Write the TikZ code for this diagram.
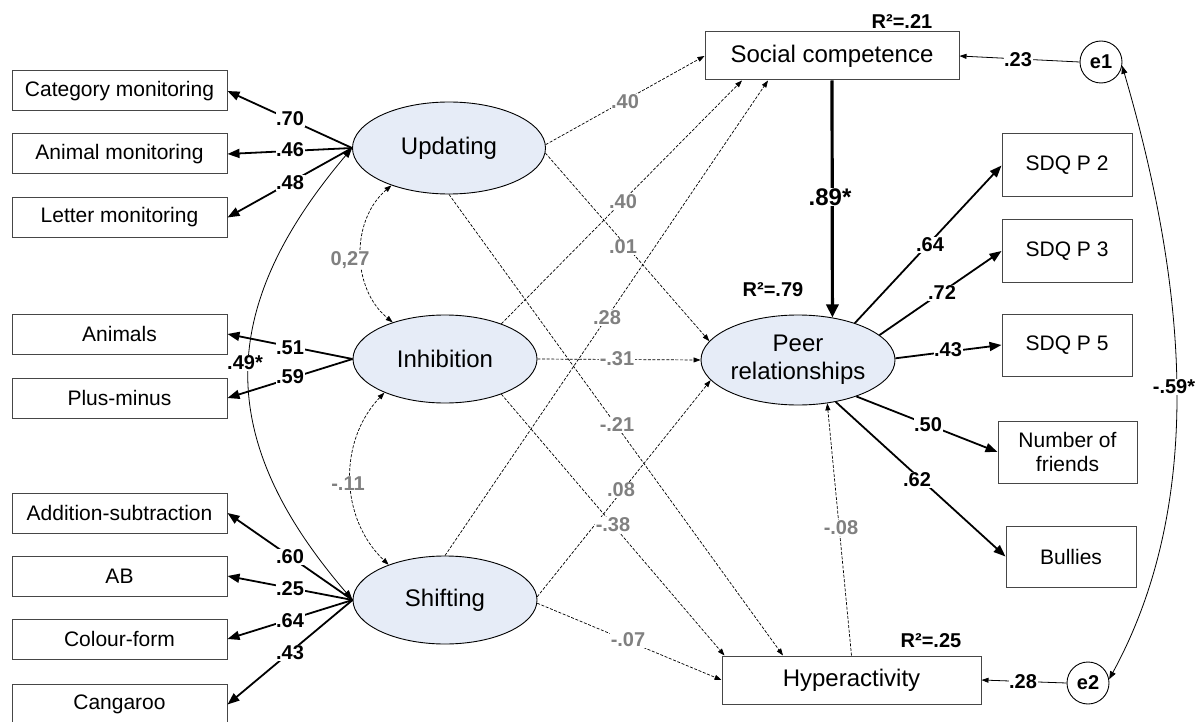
\documentclass[tikz,border=0pt]{standalone}
\usepackage{fontspec}
\setmainfont{Liberation Sans}
\usetikzlibrary{arrows.meta,shapes.geometric}
\definecolor{ellfill}{RGB}{230,236,247}
\definecolor{labgrey}{RGB}{128,128,128}
\definecolor{boxline}{RGB}{70,70,70}
\newcommand\fntS{\fontsize{21}{24}\selectfont}
\newcommand\fntL{\fontsize{24}{28}\selectfont}
\newcommand\fntB{\fontsize{20}{22}\selectfont\bfseries}
\newcommand\fntX{\fontsize{24}{26}\selectfont\bfseries}

\begin{document}
\begin{tikzpicture}[x=1pt,y=-1pt,
  obs/.style={draw=boxline, line width=1pt, fill=white, inner sep=0pt, font=\fntS, align=center},
  leftbox/.style={obs, minimum width=215pt, minimum height=40pt},
  sdqbox/.style={obs, minimum width=130pt, minimum height=62pt},
  latent/.style={ellipse, draw=black, line width=0.9pt, fill=ellfill, inner sep=0pt, font=\fntL, align=center},
  errc/.style={circle, draw=black, line width=0.9pt, fill=white, minimum size=42pt, inner sep=0pt, font=\fntB},
  load/.style={line width=1.8pt, -{Triangle[length=12pt,width=9pt]}},
  dpath/.style={line width=0.7pt, dash pattern=on 3pt off 1.6pt, -{Triangle[length=7pt,width=5pt]}},
  dcorr/.style={line width=0.7pt, dash pattern=on 3pt off 1.6pt, {Triangle[length=7pt,width=5pt]}-{Triangle[length=7pt,width=5pt]}},
  resid/.style={line width=0.8pt, -{Triangle[length=7pt,width=5pt]}},
  lab/.style={font=\fntB, fill=white, inner sep=0.6pt},
  glab/.style={lab, text=labgrey},
]
\useasboundingbox (0,0) rectangle (1202,722);

% ---- indicators on the left ----
\node[leftbox] (catmon) at (119.5,91) {Category monitoring};
\node[leftbox] (animon) at (119.5,154) {Animal monitoring};
\node[leftbox] (letmon) at (119.5,217.5) {Letter monitoring};
\node[leftbox] (animals) at (119.5,334) {Animals};
\node[leftbox] (plusmin) at (119.5,398) {Plus-minus};
\node[leftbox] (addsub) at (119.5,513) {Addition-subtraction};
\node[leftbox] (ab) at (119.5,576) {AB};
\node[leftbox] (colform) at (119.5,639) {Colour-form};
\node[leftbox] (cangaroo) at (119.5,704.5) {Cangaroo};

% ---- latent factors ----
\node[latent, minimum width=193pt, minimum height=92pt] (upd) at (449,148) {Updating};
\node[latent, minimum width=184pt, minimum height=88pt] (inh) at (445,359) {Inhibition};
\node[latent, minimum width=184pt, minimum height=88pt] (shf) at (445,600) {Shifting};
\node[latent, minimum width=194pt, minimum height=90pt] (peer) at (798,360) {Peer\\relationships};

% ---- outcomes ----
\node[obs, font=\fntL, minimum width=254pt, minimum height=48pt] (social) at (832,56) {Social competence};
\node[obs, font=\fntL, minimum width=259pt, minimum height=48pt] (hyper) at (851.5,680) {Hyperactivity};
\node[sdqbox, minimum height=63pt] (sdq2) at (1067,165.5) {SDQ P 2};
\node[sdqbox] (sdq3) at (1067,251) {SDQ P 3};
\node[sdqbox] (sdq5) at (1067,345) {SDQ P 5};
\node[sdqbox, minimum width=139pt] (nof) at (1067.5,452) {Number of\\friends};
\node[sdqbox, minimum height=61pt] (bullies) at (1071,556.5) {Bullies};
\node[errc] (e1) at (1101,62) {e1};
\node[errc] (e2) at (1088,683) {e2};

% ---- measurement paths ----
\draw[load] (upd.west) -- (catmon.east);
\draw[load] (upd.west) -- (animon.east);
\draw[load] (upd.west) -- (letmon.east);
\draw[load] (inh.west) -- (animals.east);
\draw[load] (inh.west) -- (plusmin.east);
\draw[load] (shf.west) -- (addsub.east);
\draw[load] (shf.west) -- (ab.east);
\draw[load] (shf.west) -- (colform.east);
\draw[load] (shf.west) -- (cangaroo.east);

\draw[load] (peer.33) -- (sdq2.west);
\draw[load] (peer.17) -- (sdq3.west);
\draw[load] (peer.1) -- (sdq5.west);
\draw[load] (peer.-32) -- (nof.west);
\draw[load] (peer.-48) -- (bullies.west);

% ---- factor correlations ----
\draw[line width=0.8pt, {Triangle[length=10pt,width=7pt]}-{Triangle[length=10pt,width=7pt]}]
  (shf.west) .. controls (215,440) and (215,310) .. (upd.west);
\draw[dcorr] (upd.213) to[bend right=50] (inh.145);
\draw[dcorr] (inh.209) to[bend right=45] (shf.148);

% ---- structural paths ----
\draw[dpath] (upd.2) -- (social.west);
\draw[dpath] (inh.32) -- ([xshift=-90pt]social.south);
\draw[dpath] (shf.north) -- ([xshift=-64pt]social.south);
\draw[dpath] (upd.-3) -- (peer.168);
\draw[dpath] (inh.east) -- (peer.west);
\draw[dpath] (shf.2) -- (peer.193);
\draw[dpath] (upd.south) -- ([xshift=-68.5pt]hyper.north);
\draw[dpath] (inh.-32) -- ([xshift=3pt]hyper.north west);
\draw[dpath] (shf.-2) -- (hyper.west);
\draw[dpath] (hyper.north) -- (peer.-56);
\draw[line width=3.2pt, -{Triangle[length=13pt,width=12pt]}] (social.south) -- (peer.51);

% ---- residuals ----
\draw[resid] (e1.west) -- (social.east);
\draw[resid] (e2.west) -- (hyper.east);
\draw[line width=0.8pt, {Triangle[length=8pt,width=6pt]}-{Triangle[length=8pt,width=6pt]}]
  (e1.-10) .. controls (1178,257) and (1214,487) .. (e2.10);

% ---- coefficients ----
\node[lab] (l70) at (290,119) {.70};
\node[lab] (l46) at (290,150) {.46};
\node[lab] (l48) at (290,183) {.48};
\node[lab] (l51) at (290,348) {.51};
\node[lab] (l59) at (290,377) {.59};
\node[lab] (l49) at (245,363) {.49*};
\node[lab] (l60) at (290,557) {.60};
\node[lab] (l25) at (290,589) {.25};
\node[lab] (l64a) at (290,621) {.64};
\node[lab] (l43a) at (290,653) {.43};
\node[glab] (l027) at (350,260) {0,27};
\node[glab] (l11) at (348,484) {-.11};

\node[glab] (p40a) at (625,102) {.40};
\node[glab] (p40b) at (623,202) {.40};
\node[glab] (p01) at (623,247) {.01};
\node[glab] (p28) at (607,318) {.28};
\node[glab] (p31) at (617,359) {-.31};
\node[glab] (p21) at (617,425) {-.21};
\node[glab] (p08) at (621,490) {.08};
\node[glab] (p38) at (613,525) {-.38};
\node[glab] (p07) at (628,640) {-.07};
\node[glab] (p08b) at (841,528) {-.08};
\node[lab, font=\fntX] (p89) at (830,197) {.89*};

\node[lab] (r64) at (930,245) {.64};
\node[lab] (r72) at (942,293) {.72};
\node[lab] (r43) at (948,350) {.43};
\node[lab] (r50) at (928,425) {.50};
\node[lab] (r62) at (917,480) {.62};
\node[lab] (r23) at (1018,60) {.23};
\node[lab] (r28) at (1023,682) {.28};
\node[lab] (r59) at (1174,387) {-.59*};

\node[lab] (rsq1) at (902,22) {R²=.21};
\node[lab] (rsq2) at (773,290) {R²=.79};
\node[lab] (rsq3) at (931,641) {R²=.25};
\end{tikzpicture}
\end{document}
